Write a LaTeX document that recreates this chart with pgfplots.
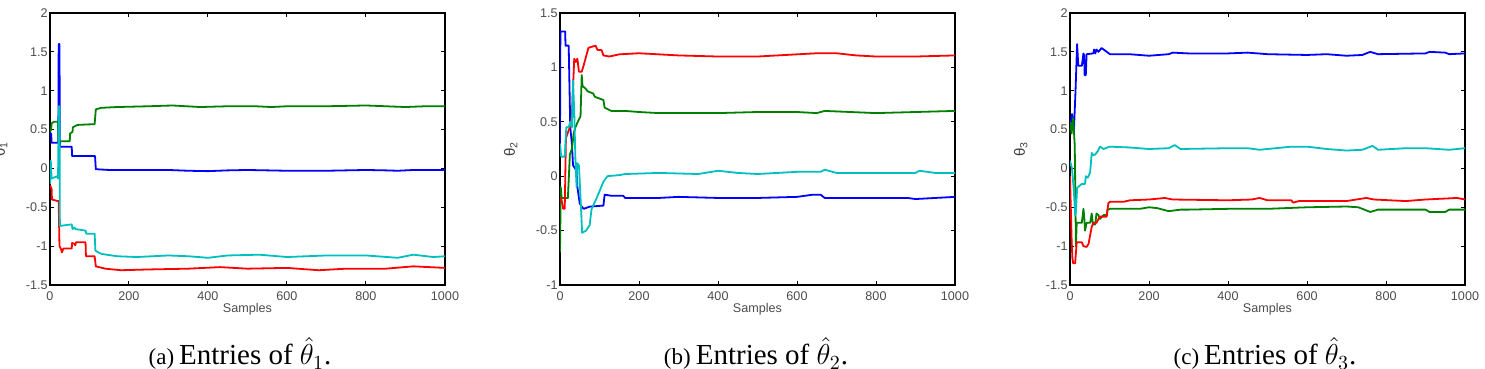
\documentclass[border=0pt]{standalone}
\usepackage{fontspec}
\setmainfont{Liberation Sans}
\newfontfamily\capfont{Liberation Serif}
\usepackage{pgfplots}
\pgfplotsset{compat=1.18}
\definecolor{mblue}{rgb}{0,0,1}
\definecolor{mgreen}{rgb}{0,0.5,0}
\definecolor{mred}{rgb}{1,0,0}
\definecolor{mcyan}{rgb}{0,0.75,0.75}
\pgfplotsset{myax/.style={
  scale only axis, width=197.5pt, height=136pt,
  xmin=0, xmax=1000, xtick={0,200,...,1000},
  axis line style={line width=0.7pt},
  tick style={black, line width=0.5pt},
  major tick length=2pt, tick align=inside,
  /pgf/number format/assume math mode=true,
  /pgf/number format/1000 sep={},
  ticklabel style={font=\fontsize{6.3}{7}\selectfont, text=black!70},
  yticklabel style={inner sep=1pt},
  xticklabel style={inner sep=1pt, yshift=-2pt},
  xlabel={Samples},
  xlabel style={font=\fontsize{6.3}{7}\selectfont, text=black!70, at={(axis description cs:0.5,0)}, anchor=center, yshift=-12pt},
  ylabel style={font=\fontsize{7.5}{8}\selectfont, text=black!75, at={(axis description cs:-0.125,0.5)}, anchor=center},
  every axis plot/.append style={line width=0.9pt, no marks, line join=round},
  anchor=south west
}}
\begin{document}
\begin{tikzpicture}
\path[use as bounding box] (0,0) rectangle (742.5pt,184.5pt);
% ---------------- (a)
\begin{axis}[myax, at={(25pt,42pt)}, ymin=-1.5, ymax=2, ytick={-1.5,-1,...,2}, ylabel={θ\textsubscript{1}}]
\addplot[mblue] coordinates {(0,0.45)(3,0.45)(4,0.33)(21,0.33)(22,1.6)(24,1.6)(25,0.28)(55,0.28)(56,0.16)(114,0.16)(116,-0.01)(150,-0.02)(200,-0.02)(300,-0.02)(350,-0.03)(400,-0.035)(450,-0.025)(500,-0.02)(550,-0.025)(600,-0.03)(650,-0.03)(700,-0.03)(750,-0.025)(800,-0.02)(850,-0.025)(880,-0.03)(920,-0.02)(1000,-0.02)};
\addplot[mgreen] coordinates {(0,0.47)(3,0.5)(4,0.58)(10,0.6)(20,0.6)(22,0.3)(23,0.35)(50,0.35)(51,0.45)(57,0.47)(58,0.53)(70,0.56)(113,0.57)(116,0.76)(130,0.78)(170,0.79)(250,0.8)(310,0.81)(380,0.79)(450,0.8)(520,0.8)(560,0.79)(600,0.8)(700,0.8)(800,0.81)(850,0.8)(900,0.79)(950,0.8)(1000,0.8)};
\addplot[mred] coordinates {(0,-0.22)(4,-0.26)(5,-0.4)(20,-0.42)(22,-0.42)(24,-1.0)(28,-1.04)(30,-1.08)(34,-1.03)(55,-1.03)(56,-0.96)(62,-0.97)(64,-0.99)(66,-0.95)(90,-0.95)(91,-1.13)(113,-1.13)(116,-1.26)(140,-1.29)(180,-1.31)(250,-1.3)(350,-1.29)(430,-1.27)(500,-1.29)(600,-1.28)(680,-1.31)(750,-1.29)(850,-1.29)(920,-1.26)(1000,-1.28)};
\addplot[mcyan] coordinates {(0,-0.2)(2,0.1)(4,-0.13)(18,-0.1)(20,-0.13)(21,0.1)(22,0.8)(24,0.8)(25,-0.74)(55,-0.72)(57,-0.78)(62,-0.76)(64,-0.78)(90,-0.8)(92,-0.84)(113,-0.84)(115,-1.06)(130,-1.1)(170,-1.13)(220,-1.14)(300,-1.12)(350,-1.13)(400,-1.15)(450,-1.12)(530,-1.11)(600,-1.14)(700,-1.12)(800,-1.12)(880,-1.15)(920,-1.11)(970,-1.14)(1000,-1.13)};
\end{axis}
% ---------------- (b)
\begin{axis}[myax, at={(280pt,42pt)}, ymin=-1, ymax=1.5, ytick={-1,-0.5,...,1.5}, ylabel={θ\textsubscript{2}}]
\addplot[mblue] coordinates {(0,0.3)(1,1.33)(13,1.33)(14,1.2)(22,1.2)(26,0.45)(30,0.3)(33,0.1)(42,0.05)(44,-0.1)(50,-0.25)(55,-0.28)(60,-0.3)(75,-0.28)(110,-0.27)(113,-0.17)(130,-0.18)(160,-0.18)(165,-0.2)(250,-0.2)(300,-0.19)(400,-0.2)(500,-0.2)(600,-0.19)(640,-0.17)(660,-0.17)(670,-0.2)(800,-0.2)(880,-0.2)(900,-0.21)(1000,-0.19)};
\addplot[mgreen] coordinates {(0,-0.7)(2,-0.1)(4,-0.2)(20,-0.2)(25,0.2)(30,0.25)(35,0.4)(39,0.45)(45,0.5)(52,0.55)(55,0.93)(57,0.83)(66,0.8)(70,0.78)(84,0.76)(88,0.73)(110,0.7)(113,0.63)(130,0.6)(165,0.6)(200,0.59)(250,0.58)(400,0.58)(500,0.59)(600,0.59)(650,0.58)(670,0.6)(800,0.58)(900,0.59)(1000,0.6)};
\addplot[mred] coordinates {(0,-0.2)(3,-0.2)(8,-0.3)(12,-0.3)(15,0.35)(20,0.4)(25,0.45)(30,0.55)(36,1.08)(40,1.05)(44,1.08)(48,0.96)(55,0.96)(60,1.02)(66,1.1)(72,1.18)(90,1.2)(95,1.16)(105,1.16)(110,1.11)(125,1.1)(150,1.12)(200,1.13)(250,1.12)(300,1.11)(400,1.1)(500,1.1)(600,1.12)(650,1.13)(700,1.13)(750,1.11)(800,1.1)(900,1.1)(1000,1.11)};
\addplot[mcyan] coordinates {(0,0.3)(3,0.18)(12,0.18)(16,0.45)(22,0.45)(26,0.5)(30,0.45)(33,0.88)(36,0.6)(39,0.15)(42,-0.1)(43,0.12)(48,0.1)(52,-0.2)(56,-0.52)(66,-0.5)(75,-0.45)(80,-0.3)(93,-0.2)(110,-0.05)(120,0)(150,0.01)(165,0.02)(250,0.03)(350,0.02)(400,0.05)(450,0.03)(500,0.02)(550,0.03)(600,0.04)(660,0.04)(670,0.06)(700,0.03)(800,0.03)(900,0.03)(910,0.05)(950,0.03)(1000,0.03)};
\end{axis}
% ---------------- (c)
\begin{axis}[myax, at={(535pt,42pt)}, ymin=-1.5, ymax=2, ytick={-1.5,-1,...,2}, ylabel={θ\textsubscript{3}}]
\addplot[mblue] coordinates {(0,0.5)(5,0.7)(10,0.5)(14,1.0)(16,1.3)(18,1.6)(21,1.32)(30,1.32)(34,1.48)(36,1.45)(37,1.2)(40,1.2)(42,1.47)(59,1.48)(61,1.53)(64,1.48)(67,1.53)(72,1.5)(80,1.55)(93,1.5)(101,1.47)(150,1.47)(200,1.45)(250,1.47)(260,1.49)(300,1.48)(400,1.48)(450,1.49)(500,1.47)(600,1.46)(650,1.47)(700,1.45)(740,1.46)(760,1.5)(780,1.47)(900,1.48)(910,1.5)(950,1.49)(960,1.47)(1000,1.48)};
\addplot[mgreen] coordinates {(0,0.6)(4,0.45)(8,0.65)(12,0.3)(15,-1.0)(17,-0.7)(30,-0.7)(34,-0.52)(36,-0.62)(38,-0.8)(42,-0.7)(51,-0.7)(55,-0.58)(58,-0.72)(64,-0.72)(67,-0.58)(72,-0.6)(76,-0.65)(85,-0.6)(93,-0.6)(95,-0.53)(101,-0.52)(177,-0.52)(200,-0.5)(220,-0.51)(250,-0.55)(280,-0.53)(300,-0.53)(400,-0.52)(500,-0.52)(600,-0.5)(700,-0.49)(730,-0.5)(760,-0.56)(780,-0.53)(900,-0.53)(910,-0.56)(950,-0.56)(960,-0.53)(1000,-0.53)};
\addplot[mred] coordinates {(0,-0.1)(4,-0.9)(6,-1.15)(8,-1.22)(13,-1.22)(17,-0.95)(30,-0.95)(34,-1.0)(42,-1.01)(47,-0.97)(55,-0.75)(59,-0.7)(67,-0.7)(72,-0.65)(76,-0.62)(93,-0.62)(97,-0.45)(101,-0.43)(135,-0.43)(152,-0.41)(200,-0.4)(240,-0.38)(260,-0.4)(400,-0.41)(460,-0.4)(480,-0.38)(500,-0.41)(560,-0.41)(565,-0.44)(580,-0.42)(700,-0.42)(750,-0.38)(770,-0.4)(850,-0.42)(900,-0.4)(980,-0.38)(1000,-0.4)};
\addplot[mcyan] coordinates {(0,0.1)(5,0.0)(10,-0.3)(13,-0.6)(15,-0.55)(18,-0.25)(25,-0.22)(30,-0.2)(38,-0.2)(40,-0.1)(45,-0.12)(51,-0.05)(55,0.2)(59,0.17)(64,0.18)(70,0.22)(76,0.28)(85,0.25)(100,0.28)(150,0.27)(200,0.25)(250,0.26)(265,0.3)(280,0.25)(400,0.26)(450,0.26)(480,0.24)(500,0.25)(560,0.28)(600,0.28)(650,0.25)(700,0.23)(740,0.24)(766,0.29)(780,0.24)(850,0.26)(900,0.26)(960,0.24)(1000,0.26)};
\end{axis}
% captions
\node[anchor=base, inner sep=0pt] at (120pt,2pt) {\capfont{\fontsize{11.5}{12}\selectfont (a)} {\fontsize{14.5}{16}\selectfont Entries of $\hat{\theta}_1$.}};
\node[anchor=base, inner sep=0pt] at (378pt,2pt) {\capfont{\fontsize{11.5}{12}\selectfont (b)} {\fontsize{14.5}{16}\selectfont Entries of $\hat{\theta}_2$.}};
\node[anchor=base, inner sep=0pt] at (632.5pt,2pt) {\capfont{\fontsize{11.5}{12}\selectfont (c)} {\fontsize{14.5}{16}\selectfont Entries of $\hat{\theta}_3$.}};
\end{tikzpicture}
\end{document}
